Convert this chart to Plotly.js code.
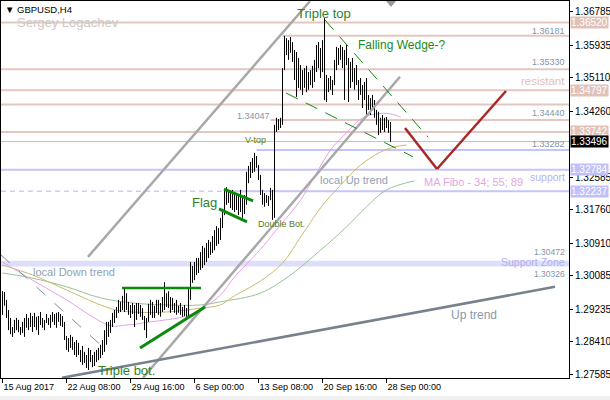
<!DOCTYPE html>
<html><head><meta charset="utf-8">
<script src="https://cdn.plot.ly/plotly-3.0.1.min.js"></script>
<style>html,body{margin:0;padding:0;background:#fff}#chart{width:610px;height:400px}</style>
</head><body><div id="chart"></div>
<script>
// ---- DATA (GBPUSD H4, bar index 0 = 15 Aug 2017 00:00) ----
const tickIdx = [0,32,64,96,128,160,192];
const tickLabels = ['15 Aug 2017','22 Aug 08:00','29 Aug 16:00','6 Sep 00:00','13 Sep 08:00','20 Sep 16:00','28 Sep 00:00'];
const priceTicks = [1.36785,1.35935,1.35110,1.34260,1.32585,1.31760,1.30910,1.30085,1.29235,1.28410,1.27585];

const highs = [1.2970,1.2968,1.2948,1.2922,1.2902,1.2879,1.2897,1.2902,1.2897,1.2879,
1.2892,1.2902,1.2912,1.2902,1.2915,1.2907,1.2915,1.2905,1.2907,1.2917,
1.2902,1.2897,1.2912,1.2902,1.2910,1.2917,1.2912,1.2915,1.2917,1.2912,
1.2907,1.2892,1.2856,1.2851,1.2859,1.2854,1.2841,1.2846,1.2839,1.2821,
1.2831,1.2816,1.2808,1.2826,1.2821,1.2808,1.2816,1.2821,1.2826,1.2834,
1.2846,1.2871,1.2892,1.2892,1.2897,1.2915,1.2922,1.2930,1.2948,1.2943,
1.2958,1.2978,1.2965,1.2943,1.2935,1.2940,1.2935,1.2940,1.2940,1.2935,
1.2927,1.2907,1.2902,1.2938,1.2948,1.2943,1.2933,1.2948,1.2948,1.2940,
1.2955,1.2993,1.2965,1.2970,1.2955,1.2953,1.2940,1.2948,1.2933,1.2940,
1.2930,1.2935,1.2927,1.2978,1.3044,1.3034,1.3044,1.3054,1.3054,1.3069,
1.3085,1.3080,1.3092,1.3100,1.3095,1.3110,1.3125,1.3135,1.3130,1.3156,
1.3176,1.3227,1.3234,1.3227,1.3222,1.3227,1.3217,1.3219,1.3214,1.3227,
1.3212,1.3214,1.3273,1.3288,1.3298,1.3308,1.3321,1.3313,1.3290,1.3265,
1.3227,1.3219,1.3214,1.3212,1.3232,1.3227,1.3392,1.3410,1.3407,1.3410,
1.3536,1.3618,1.3612,1.3607,1.3615,1.3602,1.3582,1.3577,1.3562,1.3544,
1.3531,1.3536,1.3542,1.3526,1.3531,1.3542,1.3557,1.3595,1.3602,1.3587,
1.3607,1.3663,1.3519,1.3511,1.3516,1.3506,1.3557,1.3590,1.3587,1.3595,
1.3590,1.3582,1.3595,1.3562,1.3552,1.3562,1.3536,1.3544,1.3506,1.3511,
1.3493,1.3501,1.3511,1.3468,1.3460,1.3468,1.3455,1.3430,1.3425,1.3410,
1.3417,1.3410,1.3412,1.3404,1.3399];
const lows = [1.2910,1.2933,1.2902,1.2871,1.2861,1.2854,1.2864,1.2871,1.2866,1.2859,
1.2864,1.2854,1.2877,1.2871,1.2879,1.2866,1.2879,1.2871,1.2859,1.2884,
1.2877,1.2871,1.2889,1.2884,1.2877,1.2892,1.2884,1.2877,1.2892,1.2882,
1.2879,1.2846,1.2821,1.2816,1.2826,1.2821,1.2808,1.2803,1.2808,1.2790,
1.2783,1.2788,1.2775,1.2770,1.2790,1.2777,1.2780,1.2790,1.2795,1.2800,
1.2808,1.2816,1.2834,1.2854,1.2864,1.2879,1.2889,1.2902,1.2915,1.2917,
1.2922,1.2917,1.2922,1.2910,1.2902,1.2912,1.2879,1.2897,1.2912,1.2905,
1.2897,1.2871,1.2851,1.2892,1.2910,1.2902,1.2902,1.2915,1.2910,1.2905,
1.2917,1.2922,1.2930,1.2927,1.2915,1.2922,1.2915,1.2910,1.2915,1.2910,
1.2905,1.2907,1.2905,1.2905,1.2948,1.2991,1.2998,1.3011,1.3016,1.3024,
1.3029,1.3036,1.3044,1.3054,1.3062,1.3067,1.3074,1.3085,1.3090,1.3100,
1.3130,1.3163,1.3189,1.3194,1.3181,1.3176,1.3171,1.3176,1.3163,1.3171,
1.3156,1.3166,1.3189,1.3244,1.3257,1.3270,1.3273,1.3283,1.3252,1.3214,
1.3189,1.3184,1.3194,1.3186,1.3201,1.3151,1.3156,1.3374,1.3379,1.3384,
1.3392,1.3531,1.3569,1.3557,1.3575,1.3552,1.3506,1.3463,1.3486,1.3481,
1.3468,1.3486,1.3475,1.3481,1.3493,1.3486,1.3501,1.3526,1.3536,1.3511,
1.3526,1.3455,1.3450,1.3475,1.3481,1.3468,1.3493,1.3531,1.3544,1.3557,
1.3536,1.3455,1.3544,1.3450,1.3486,1.3501,1.3481,1.3493,1.3455,1.3468,
1.3435,1.3455,1.3417,1.3430,1.3417,1.3435,1.3410,1.3392,1.3366,1.3372,
1.3379,1.3374,1.3384,1.3372,1.3349];

// Moving averages (MA Fibo 34 / 55 / 89), read at sample bars
const ma34Idx = [0,15,32,45,54,62,74,92,100,109,116,124,130,139,149,157,164,172,180,187,194,199];
const ma34 = [1.3044,1.2998,1.2948,1.2905,1.2882,1.2884,1.2892,1.2907,1.2927,1.2960,1.3006,1.3049,1.3082,1.3138,1.3201,1.3270,1.3328,1.3372,1.3410,1.3420,1.3420,1.3412];
const ma55Idx = [0,15,32,49,57,65,82,99,109,115,129,140,149,159,169,179,189,196,202];
const ma55 = [1.3036,1.3011,1.2973,1.2935,1.2922,1.2917,1.2917,1.2927,1.2935,1.2955,1.2996,1.3041,1.3107,1.3181,1.3239,1.3290,1.3323,1.3336,1.3341];
const ma89Idx = [0,15,32,49,65,82,99,109,129,144,159,172,182,192,206];
const ma89 = [1.3016,1.3003,1.2981,1.2953,1.2940,1.2935,1.2935,1.2943,1.2965,1.3011,1.3074,1.3133,1.3184,1.3227,1.3250];

// Horizontal levels
const resistLevels = [1.36520,1.36181,1.35330,1.34797,1.34440,1.34047,1.33742];
const supportLevels = [1.33282,1.32784,1.32237];
const bidPrice = 1.33496;
const supportZone = [1.30326,1.30472];

// ---- BUILD ----
const F = 'Liberation Sans, Arial, sans-serif';
const XR = [-0.75, 283.25];
const YR = [1.27496, 1.37064];
const P = (x,y) => ({x:(x-1)/568, y:(378-y)/377});

const bx = [], by = [];
highs.forEach((h,i)=>{ bx.push(i,i,null); by.push(h,lows[i],null); });

const traces = [
  {type:'scatter',mode:'lines',x:ma89Idx,y:ma89,line:{color:'#96c496',width:1,shape:'spline'},hoverinfo:'skip'},
  {type:'scatter',mode:'lines',x:ma55Idx,y:ma55,line:{color:'#cdbb6a',width:1,shape:'spline'},hoverinfo:'skip'},
  {type:'scatter',mode:'lines',x:ma34Idx,y:ma34,line:{color:'#e6a2e6',width:1,shape:'spline'},hoverinfo:'skip'},
  {type:'scatter',mode:'lines',x:bx,y:by,line:{color:'#000',width:1},connectgaps:false,hoverinfo:'skip'}
];

const pink = '#e3c7bf', blue = '#c4c4fc';
const shapes = [];
shapes.push({type:'rect',layer:'below',xref:'paper',x0:0,x1:1,yref:'y',y0:supportZone[0],y1:supportZone[1],fillcolor:'#dedefc',line:{width:0}});
const resStart = [null,140,null,null,null,134,null];
resistLevels.forEach((p,k)=>{
  if(resStart[k]===null) shapes.push({type:'line',layer:'below',xref:'paper',x0:0,x1:1,yref:'y',y0:p,y1:p,line:{color:pink,width:2}});
  else shapes.push({type:'line',layer:'below',xref:'x',x0:resStart[k],x1:XR[1],yref:'y',y0:p,y1:p,line:{color:pink,width:2}});
});
shapes.push({type:'line',layer:'below',xref:'paper',x0:0,x1:1,yref:'y',y0:bidPrice,y1:bidPrice,line:{color:'#c0c0c0',width:1}});
shapes.push({type:'line',layer:'below',xref:'x',x0:127,x1:XR[1],yref:'y',y0:supportLevels[0],y1:supportLevels[0],line:{color:blue,width:2}});
shapes.push({type:'line',layer:'below',xref:'paper',x0:0,x1:1,yref:'y',y0:supportLevels[1],y1:supportLevels[1],line:{color:blue,width:2}});
shapes.push({type:'line',layer:'below',xref:'x',x0:111,x1:XR[1],yref:'y',y0:supportLevels[2],y1:supportLevels[2],line:{color:blue,width:2}});
shapes.push({type:'line',layer:'below',xref:'x',x0:XR[0],x1:111,yref:'y',y0:supportLevels[2],y1:supportLevels[2],line:{color:'#b4b4f4',width:1,dash:'5px,4px'}});

function seg(x0,y0,x1,y1,color,width,dash){
  const s={type:'line',xref:'x',yref:'y',x0,y0,x1,y1,line:{color,width}};
  if(dash) s.line.dash=dash; return s;
}
shapes.push(seg(42.75,1.3057,153.75,1.3706,'#a8a8a8',2.5));
shapes.push(seg(70.25,1.2750,198.75,1.3514,'#a8a8a8',2.5));
shapes.push(seg(29.75,1.2750,276.25,1.2981,'#76838f',2.5));
shapes.push(seg(-0.75,1.3062,50.25,1.2828,'#7d8da0',1,'12px,12px'));
shapes.push(seg(161.25,1.3658,212.75,1.3361,'#118a11',1,'13px,9px'));
shapes.push(seg(141.75,1.3473,205.25,1.3311,'#118a11',1,'13px,9px'));
shapes.push(seg(110.75,1.3229,125.25,1.3199,'#0a8a0a',3));
shapes.push(seg(108.25,1.3179,122.25,1.3146,'#0a8a0a',3));
shapes.push(seg(59.75,1.2978,99.25,1.2978,'#0a8a0a',2.5));
shapes.push(seg(68.75,1.2826,101.25,1.2930,'#0a8a0a',3));
shapes.push(seg(201.25,1.3384,217.25,1.3280,'#a82828',2.5));
shapes.push(seg(217.25,1.3280,251.75,1.3478,'#a82828',2.5));
shapes.push({type:'path',xref:'paper',yref:'paper',path:`M ${P(386,1).x},${P(386,1).y} L ${P(396,1).x},${P(396,1).y} L ${P(391,7).x},${P(391,7).y} Z`,fillcolor:'#9a9a9a',line:{width:0}});
shapes.push({type:'rect',xref:'paper',yref:'paper',x0:-0.01,x1:1.08,y0:(378-401)/377,y1:(378-396)/377,fillcolor:'#f0f0f0',line:{width:0}});

function txt(text,x,y,size,color,anchor){
  const p=P(x,y);
  return {text,xref:'paper',yref:'paper',x:p.x,y:p.y,xanchor:anchor||'left',yanchor:'middle',showarrow:false,borderpad:0,font:{family:F,size,color}};
}
function box(p,bg){
  return {text:p.toFixed(5),xref:'paper',x:1,xanchor:'left',xshift:1,yref:'y',y:p,yanchor:'middle',showarrow:false,bgcolor:bg,borderpad:0,font:{family:F,size:10,color:'#fff'}};
}
const gl = '#8595a8';
const annotations = [
  txt('▼ GBPUSD,H4',4,9,9.5,'#000'),
  txt('Sergey Logachev',16,22,13,'#c9c9c9'),
  txt('1.36181',566,31,9,gl,'right'),
  txt('1.35330',566,62,9,gl,'right'),
  txt('resistant',566,81,11.5,'#e3c1b9','right'),
  txt('1.34440',566,113,9,gl,'right'),
  txt('1.33282',566,144,9,gl,'right'),
  txt('support',566,177,10.5,'#b4b4f4','right'),
  txt('1.30472',566,251.5,8.5,gl,'right'),
  txt('Support Zone',566,262,10.5,'#b0b0f0','right'),
  txt('1.30326',566,274,8.5,gl,'right'),
  txt('1.34047',236,116,9,gl),
  txt('MA Fibo - 34; 55; 89',423,182,11,'#e4a4e4'),
  txt('local Up trend',319,180,11,'#8fa2b6'),
  txt('local Down trend',32,272,11,'#8fa2b6'),
  txt('Up trend',450,315,12,'#8a98a8'),
  txt('Falling Wedge-?',357,45,12,'#1a8a1a'),
  txt('Triple top',296,13,13,'#2f7f2a'),
  txt('V-top',244,140,9,'#5f7a18'),
  txt('Double Bot.',257,224,9,'#5f7a18'),
  txt('Flag',191,203,13,'#2f7f2a'),
  txt('Triple bot.',97,370,13,'#2f7f2a'),
  box(1.36520,'#e0c2ba'), box(1.34797,'#e0c2ba'), box(1.33742,'#e0c2ba'),
  box(bidPrice,'#000'), box(1.32784,'#c0c0fa'), box(1.32237,'#c0c0fa')
];

const layout = {
  width:610,height:400,margin:{l:1,r:41,t:1,b:22},
  paper_bgcolor:'#fff',plot_bgcolor:'#fff',showlegend:false,
  font:{family:F,size:10,color:'#000'},
  xaxis:{range:XR,tickvals:tickIdx,ticktext:tickLabels,ticks:'outside',ticklen:4,tickcolor:'#000',
    ticklabelposition:'outside right',tickfont:{family:F,size:9,color:'#000'},
    showgrid:false,zeroline:false,showline:true,linecolor:'#000',linewidth:1,mirror:true,fixedrange:true},
  yaxis:{range:YR,side:'right',tickvals:priceTicks,tickformat:'.5f',ticks:'outside',ticklen:3,tickcolor:'#000',
    tickfont:{family:F,size:10,color:'#000'},showgrid:false,zeroline:false,showline:true,linecolor:'#000',linewidth:1,mirror:true,fixedrange:true},
  shapes, annotations
};
Plotly.newPlot('chart',traces,layout,{staticPlot:true,displayModeBar:false});
</script></body></html>
